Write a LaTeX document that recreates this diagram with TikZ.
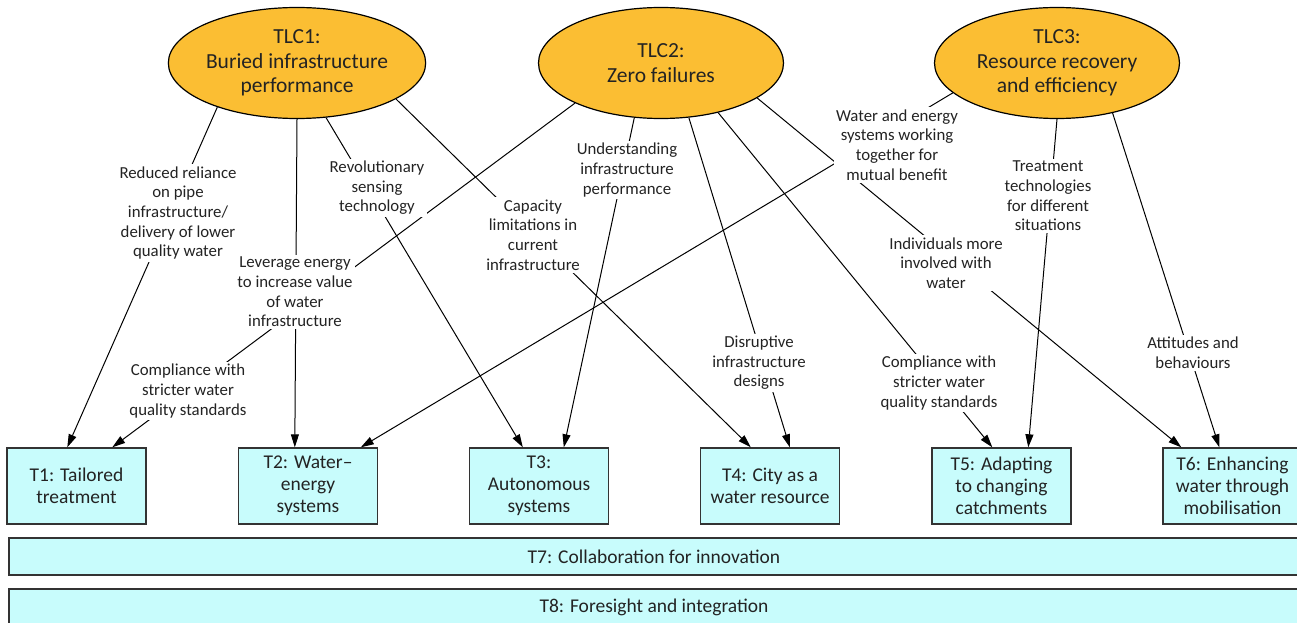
\documentclass[tikz,border=0pt]{standalone}
\usepackage{fontspec}
\setmainfont{Carlito}
\usetikzlibrary{shapes.geometric,arrows.meta}
\definecolor{tlcfill}{RGB}{251,190,51}
\definecolor{boxfill}{RGB}{200,252,252}
\definecolor{txt}{RGB}{35,35,35}
\begin{document}
\begin{tikzpicture}[x=1pt,y=-1pt,
  tlc/.style={ellipse, draw=black, line width=1.2pt, fill=tlcfill, minimum width=245pt, minimum height=111pt, inner sep=0pt, align=center, font=\fontsize{21.5}{24.5}\selectfont, text=txt},
  theme/.style={rectangle, draw=black!80, line width=1.4pt, fill=boxfill, minimum width=139pt, minimum height=76pt, inner sep=0pt, align=center, font=\fontsize{19.5}{22}\selectfont, text=txt},
  widebox/.style={rectangle, draw=black!80, line width=1.4pt, fill=boxfill, minimum width=1290pt, minimum height=37pt, inner sep=0pt, font=\fontsize{19.5}{22}\selectfont, text=txt},
  lbl/.style={fill=white, align=center, inner sep=2.5pt, font=\fontsize{16.8}{19.6}\selectfont, text=txt},
  link/.style={line width=1pt, draw=black, -{Triangle[length=13pt,width=8pt]}}
]
\useasboundingbox (0,0) rectangle (1297,623);
\clip (0,0) rectangle (1297,623);
% ellipses
\node[tlc] (tlc1) at (297,63) {TLC1:\\Buried infrastructure\\performance};
\node[tlc] (tlc2) at (661,63) {TLC2:\\Zero failures};
\node[tlc] (tlc3) at (1057,63) {TLC3:\\Resource recovery\\and efficiency};
% theme boxes
\node[theme] (t1) at (76.5,486) {T1: Tailored\\treatment};
\node[theme] (t2) at (308,486) {T2: Water--\\energy\\systems};
\node[theme] (t3) at (539,486) {T3:\\Autonomous\\systems};
\node[theme] (t4) at (770,486) {T4: City as a\\water resource};
\node[theme] (t5) at (1001.5,486) {T5: Adapting\\to changing\\catchments};
\node[theme] (t6) at (1232.5,486) {T6: Enhancing\\water through\\mobilisation};
\node[widebox] (t7) at (654,556.5) {T7: Collaboration for innovation};
\node[widebox] (t8) at (654,607.5) {T8: Foresight and integration};
% connectors
\draw[link] (tlc1.209) -- ([xshift=61pt]t1.north west);
\draw[link] (tlc2.205) -- ([xshift=106pt]t1.north west);
\draw[link] (tlc1.270) -- ([xshift=57pt]t2.north west);
\draw[link] (tlc3.196) -- ([xshift=123pt]t2.north west);
\draw[link] (tlc1.298) -- ([xshift=54pt]t3.north west);
\draw[link] (tlc2.244) -- ([xshift=95pt]t3.north west);
\draw[link] (tlc1.340) -- ([xshift=51pt]t4.north west);
\draw[link] (tlc2.297) -- ([xshift=90pt]t4.north west);
\draw[link] (tlc2.319) -- ([xshift=61pt]t5.north west);
\draw[link] (tlc3.270) -- ([xshift=97pt]t5.north west);
\draw[link] (tlc2.340) -- ([xshift=19pt]t6.north west);
\draw[link] (tlc3.318) -- ([xshift=57pt]t6.north west);
% labels
\node[lbl] (l1) at (178,213) {Reduced reliance\\on pipe\\infrastructure/\\delivery of lower\\quality water};
\node[lbl] (l2) at (295,292) {Leverage energy\\to increase value\\of water\\infrastructure};
\node[lbl] (l3) at (188,391) {Compliance with\\stricter water\\quality standards};
\node[lbl] (l4) at (377,188) {Revolutionary\\sensing\\technology};
\node[lbl] (l5) at (533,235) {Capacity\\limitations in\\current\\infrastructure};
\node[lbl] (l6) at (627,170) {Understanding\\infrastructure\\performance};
\node[lbl] (l7) at (759,363) {Disruptive\\infrastructure\\designs};
\node[lbl] (l8) at (897,145) {Water and energy\\systems working\\together for\\mutual benefit};
\node[lbl] (l9) at (946,263) {Individuals more\\involved with\\water};
\node[lbl] (l10) at (939,383) {Compliance with\\stricter water\\quality standards};
\node[lbl] (l11) at (1048,196) {Treatment\\technologies\\for different\\situations};
\node[lbl] (l12) at (1193,353) {Attitudes and\\behaviours};
\end{tikzpicture}
\end{document}
